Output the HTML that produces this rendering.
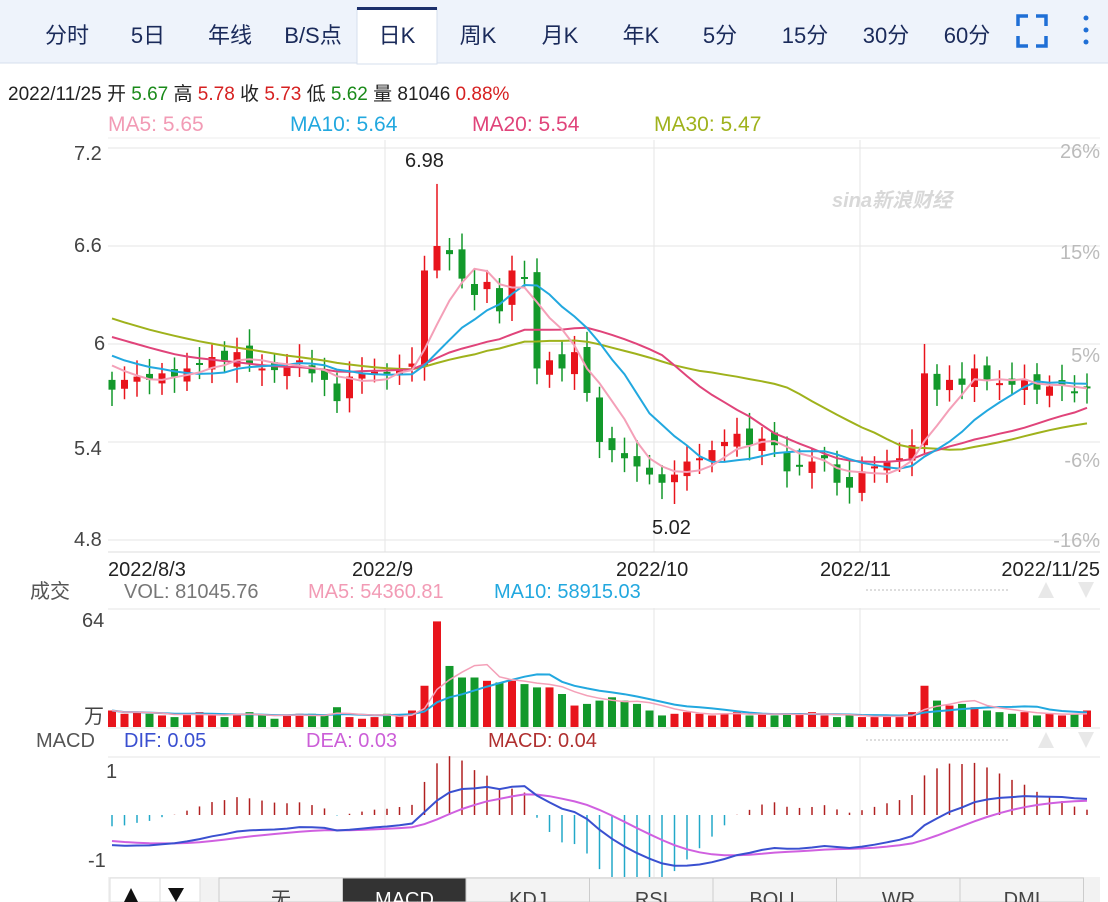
<!DOCTYPE html>
<html><head><meta charset="utf-8">
<style>
body{margin:0;width:1108px;height:902px;overflow:hidden;background:#fff;font-family:"Liberation Sans","Noto Sans CJK SC",sans-serif;}
svg{position:absolute;left:0;top:0}
</style></head><body>
<svg id="s" width="1108" height="902" xmlns="http://www.w3.org/2000/svg" font-family="Liberation Sans, Noto Sans CJK SC, sans-serif">
<rect x="0" y="0" width="1108" height="63" fill="#eef3fb"/>
<line x1="0" y1="63" x2="1108" y2="63" stroke="#d6dfee"/>
<rect x="357" y="8" width="80" height="56" fill="#fff" stroke="#d6dfee"/>
<rect x="357" y="7" width="80" height="3" fill="#1b2f6b"/>
<g font-size="22" fill="#1a2a5a" text-anchor="middle">
<text x="67" y="43">分时</text><text x="148" y="43">5日</text><text x="230" y="43">年线</text><text x="313" y="43">B/S点</text>
<text x="397" y="43">日K</text><text x="478" y="43">周K</text><text x="560" y="43">月K</text><text x="641" y="43">年K</text>
<text x="720" y="43">5分</text><text x="805" y="43">15分</text><text x="886" y="43">30分</text><text x="967" y="43">60分</text></g>
<g stroke="#1f6fd6" stroke-width="3.5" fill="none"><path d="M1018 26v-10h10M1036 16h10v10M1046 36v10h-10M1028 46h-10v-10"/></g>
<g fill="#1f6fd6"><circle cx="1086" cy="18" r="2.5"/><circle cx="1086" cy="30" r="2.5"/><circle cx="1086" cy="42" r="2.5"/></g>
<g font-size="19"><text x="8" y="100"><tspan fill="#222">2022/11/25 开 </tspan><tspan fill="#1a8a1a">5.67</tspan><tspan fill="#222"> 高 </tspan><tspan fill="#d62020">5.78</tspan><tspan fill="#222"> 收 </tspan><tspan fill="#d62020">5.73</tspan><tspan fill="#222"> 低 </tspan><tspan fill="#1a8a1a">5.62</tspan><tspan fill="#222"> 量 81046 </tspan><tspan fill="#d62020">0.88%</tspan></text></g>
<g font-size="21"><text x="108" y="131" fill="#f29bb5">MA5: 5.65</text><text x="290" y="131" fill="#22a8df">MA10: 5.64</text><text x="472" y="131" fill="#e0447a">MA20: 5.54</text><text x="654" y="131" fill="#9fb21c">MA30: 5.47</text></g>
<line x1="108" y1="138" x2="1100" y2="138" stroke="#eee"/>
<g id="g"></g>
</svg>
<script>
const S=document.getElementById('g');let h='';
const add=s=>h+=s;
[148,246,344,442,540].forEach(y=>add(`<line x1="108" y1="${y}" x2="1100" y2="${y}" stroke="#e6e6e6"/>`));
[385,654,860].forEach(x=>{add(`<line x1="${x}" y1="140" x2="${x}" y2="552" stroke="#e6e6e6"/><line x1="${x}" y1="608" x2="${x}" y2="728" stroke="#e6e6e6"/><line x1="${x}" y1="757" x2="${x}" y2="877" stroke="#e6e6e6"/>`)});
[609,728,757].forEach(y=>add(`<line x1="108" y1="${y}" x2="1100" y2="${y}" stroke="#e6e6e6"/>`));
add(`<line x1="108" y1="552" x2="1100" y2="552" stroke="#ddd"/>`);
const lt=(x,y,t,c,s,a)=>add(`<text x="${x}" y="${y}" fill="${c}" font-size="${s}" text-anchor="${a||'start'}">${t}</text>`);
lt(74,160,'7.2','#444',20);lt(74,252,'6.6','#444',20);lt(94,350,'6','#444',20);lt(74,455,'5.4','#444',20);lt(74,546,'4.8','#444',20);
lt(1100,158,'26%','#bbb',20,'end');lt(1100,259,'15%','#bbb',20,'end');lt(1100,362,'5%','#bbb',20,'end');lt(1100,467,'-6%','#bbb',20,'end');lt(1100,547,'-16%','#bbb',20,'end');
lt(108,576,'2022/8/3','#222',20);lt(352,576,'2022/9','#222',20);lt(616,576,'2022/10','#222',20);lt(820,576,'2022/11','#222',20);lt(1100,576,'2022/11/25','#222',20,'end');
lt(30,598,'成交','#555',20);lt(124,598,'VOL: 81045.76','#777',20);lt(308,598,'MA5: 54360.81','#f29bb5',20);lt(494,598,'MA10: 58915.03','#22a8df',20);
lt(82,627,'64','#444',20);lt(84,723,'万','#444',20);
lt(36,747,'MACD','#555',20);lt(124,747,'DIF: 0.05','#3a4fd0',20);lt(306,747,'DEA: 0.03','#cc5fd8',20);lt(488,747,'MACD: 0.04','#b03030',20);
lt(106,778,'1','#444',20);lt(88,867,'-1','#444',20);
lt(405,167,'6.98','#222',20);lt(652,534,'5.02','#222',20);
add(`<text x="832" y="207" fill="#d8d8d8" font-size="20" font-style="italic" font-weight="bold">sina新浪财经</text>`);
[590,740].forEach(y=>{add(`<line x1="866" y1="${y}" x2="1010" y2="${y}" stroke="#ddd" stroke-dasharray="2 2" stroke-width="2"/><path d="M1038 ${y+8}l8-16l8 16z" fill="#e8e8e8"/><path d="M1078 ${y-8}l8 16l8-16z" fill="#e8e8e8"/>`)});
const pre=[];for(let i=0;i<30;i++)pre.push(6.5-i*0.022+Math.sin(i)*0.03);
const C=[5.72,5.78,5.80,5.78,5.82,5.80,5.85,5.88,5.92,5.90,5.95,5.88,5.85,5.84,5.86,5.90,5.82,5.78,5.65,5.80,5.82,5.83,
5.82,5.85,5.88,6.45,6.6,6.55,6.4,6.3,6.38,6.2,6.45,6.4,5.85,5.9,5.85,5.95,5.7,5.4,5.35,5.3,5.25,5.2,5.15,5.2,5.28,5.3,5.35,5.4,5.45,5.38,5.42,5.38,5.22,5.25,5.28,5.3,5.15,5.12,5.22,5.25,5.28,5.3,5.38,5.82,5.72,5.78,5.75,5.85,5.78,5.76,5.75,5.78,5.72,5.74,5.75,5.7,5.73];
const all=pre.concat(C);const N=C.length;
const X=i=>112+i*12.5, Y=p=>148+(7.2-p)*163.3;
function ma(n){return C.map((_,i)=>{let k=i+30,s=0;for(let j=0;j<n;j++)s+=all[k-j];return s/n})}
const ln=(arr,col,fy,w)=>add(`<polyline fill="none" stroke="${col}" stroke-width="${w||2}" points="${arr.map((v,i)=>X(i).toFixed(1)+','+fy(v).toFixed(1)).join(' ')}"/>`);
for(let i=0;i<N;i++){let c=C[i],o=i?C[i-1]+(Math.sin(i*3)*0.04):5.78;let up=c>=o;let hi=Math.max(o,c)+0.05+Math.abs(Math.sin(i*7))*0.05,lo=Math.min(o,c)-0.05-Math.abs(Math.cos(i*5))*0.05;
if(i==26){hi=6.98;o=6.45;up=true;}if(i==45)lo=5.02;if(i==65){o=5.38;hi=6.0;}
const col=up?'#e8141c':'#13992b';const x=X(i);const t=Y(Math.max(o,c)),b=Y(Math.min(o,c));
add(`<line x1="${x}" y1="${Y(hi)}" x2="${x}" y2="${Y(lo)}" stroke="${col}" stroke-width="1.5"/><rect x="${x-3.5}" y="${t}" width="7" height="${Math.max(2,b-t)}" fill="${col}"/>`)}
ln(ma(30),'#9fb21c',Y);ln(ma(20),'#e0447a',Y);ln(ma(10),'#22a8df',Y);ln(ma(5),'#f4a0b8',Y);
const V=[10,8,9,8,7,6,8,9,7,6,8,9,7,5,7,8,8,7,12,6,5,6,8,7,10,25,64,37,30,30,28,27,28,26,24,24,20,13,14,16,18,16,14,10,7,8,9,8,7,8,9,7,8,7,8,8,9,7,6,7,6,6,7,6,9,25,16,13,14,12,10,9,8,9,7,8,7,8,10];
for(let i=0;i<N;i++){const up=i?C[i]>=C[i-1]:true;const hh=V[i]*1.65;add(`<rect x="${X(i)-4}" y="${727-hh}" width="8" height="${hh}" fill="${up?'#e8141c':'#13992b'}"/>`)}
const vma=n=>V.map((_,i)=>{let s=0,k=0;for(let j=Math.max(0,i-n+1);j<=i;j++){s+=V[j];k++}return s/k});
const VY=v=>727-v*1.65;ln(vma(10),'#22a8df',VY);ln(vma(5),'#f4a0b8',VY,1.5);
let e12=all[0],e26=all[0],dea=0;const D=[],E=[];
all.forEach((p,k)=>{e12=e12*11/13+p*2/13;e26=e26*25/27+p*2/27;const dif=e12-e26;dea=dea*0.8+dif*0.2;if(k>=30){D.push(dif);E.push(dea)}});
const MY=v=>815-v*220;
for(let i=0;i<N;i++){const m=2*(D[i]-E[i]);add(`<line x1="${X(i)}" y1="815" x2="${X(i)}" y2="${815-m*300}" stroke="${m>=0?'#b02020':'#22a8c8'}" stroke-width="1.5"/>`)}
ln(E,'#d060e0',MY);ln(D,'#3a50d0',MY);
add(`<rect x="108" y="877" width="992" height="25" fill="#f2f2f2"/><rect x="110" y="878" width="50" height="24" fill="#fff" stroke="#ddd"/><rect x="160" y="878" width="40" height="24" fill="#fff" stroke="#ddd"/><path d="M124 902l7-14l7 14z" fill="#111"/><path d="M168 888l8 14l8-14z" fill="#111"/>`);
['无','MACD','KDJ','RSI','BOLL','WR','DMI'].forEach((t,i)=>{const x=219+i*123.5;add(`<rect x="${x}" y="878" width="123.5" height="24" fill="${i==1?'#333':'#f3f3f3'}" stroke="#ccc"/><text x="${x+62}" y="906" fill="${i==1?'#fff':'#444'}" font-size="20" text-anchor="middle">${t}</text>`)});
S.innerHTML=h;
</script>
</body></html>
